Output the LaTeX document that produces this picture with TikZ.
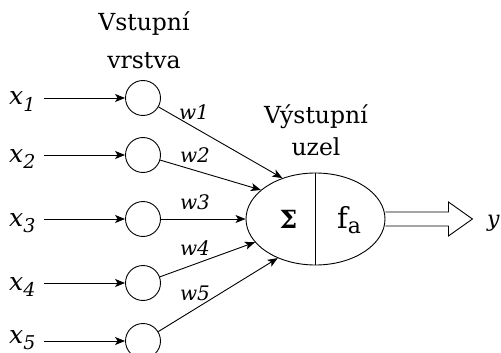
\documentclass[tikz,border=0pt]{standalone}
\usepackage{fontspec}
\setmainfont{DejaVu Serif}
\usetikzlibrary{arrows.meta,shapes.geometric}
\newcommand\capfont{\fontsize{23.5}{27}\selectfont}
\newcommand\subfont{\fontsize{19}{21}\selectfont}
\newcommand\lowsub[1]{\raisebox{-6pt}{\subfont #1}}
\begin{document}
\begin{tikzpicture}[x=1pt,y=-1pt,
  every node/.style={font=\capfont},
  neuron/.style={draw,circle,minimum size=35pt,inner sep=0pt,line width=0.9pt},
  outnode/.style={draw,ellipse,minimum width=139pt,minimum height=92pt,inner sep=0pt,line width=0.9pt},
  link/.style={line width=0.9pt,-{Stealth[length=10pt,width=8pt,inset=2.5pt]}},
  inlabel/.style={anchor=base west,inner sep=1pt,font=\fontsize{25}{28}\selectfont\itshape},
  wlabel/.style={inner sep=0pt,font=\fontsize{20}{24}\selectfont\itshape}]
\useasboundingbox (0,0) rectangle (501,353);
\begin{scope}
\clip (0,0) rectangle (501,353);
% input layer
\foreach \i/\r/\b in {1/98/105,2/155/162,3/219/226,4/283/290,5/341/343}{
  \node[neuron] (c\i) at (143,\r) {};
  \node[inlabel] (x\i) at (8,\b) {x\lowsub{\i}};
  \draw[link,shorten <=7pt] (x\i.east |- c\i) -- (c\i);
}
% output node
\node[outnode] (sum) at (315.5,219) {};
\draw[line width=0.9pt] (sum.north) -- (sum.south);
\node[anchor=base,font=\fontsize{25}{28}\selectfont\bfseries] (sig) at (288.5,228) {Σ};
\node[anchor=base west,inner sep=0pt,font=\fontsize{29}{32}\selectfont] (fa) at (337,228) {f\raisebox{-5pt}{\fontsize{22}{24}\selectfont a}};
% weighted connections
\draw[link] (c1) -- (sum.129);
\draw[link] (c2) -- (sum.152);
\draw[link] (c3) -- (sum.west);
\draw[link] (c4) -- (sum.201.5);
\draw[link] (c5) -- (sum.226);
\node[wlabel] (w1) at (194,112) {w1};
\node[wlabel] (w2) at (195,155) {w2};
\node[wlabel] (w3) at (195,202) {w3};
\node[wlabel] (w4) at (195,248) {w4};
\node[wlabel] (w5) at (195,293) {w5};
% layer captions
\node[anchor=base] (in1) at (144,31) {Vstupní};
\node[anchor=base] (in2) at (144,69) {vrstva};
\node[anchor=base] (out1) at (316,124) {Výstupní};
\node[anchor=base] (out2) at (316,155) {uzel};
% output arrow (hollow block arrow)
\draw[line width=0.9pt,line join=miter]
  (sum.east) ++(0,-7) -- ++(63,0) -- ++(0,-10) -- ++(24,17)
  -- ++(-24,17) -- ++(0,-10) -- ++(-63,0);
\node[anchor=base west,inner sep=0pt,font=\fontsize{22}{24}\selectfont\itshape] (y) at (487,226) {y};
\end{scope}
\end{tikzpicture}
\end{document}
